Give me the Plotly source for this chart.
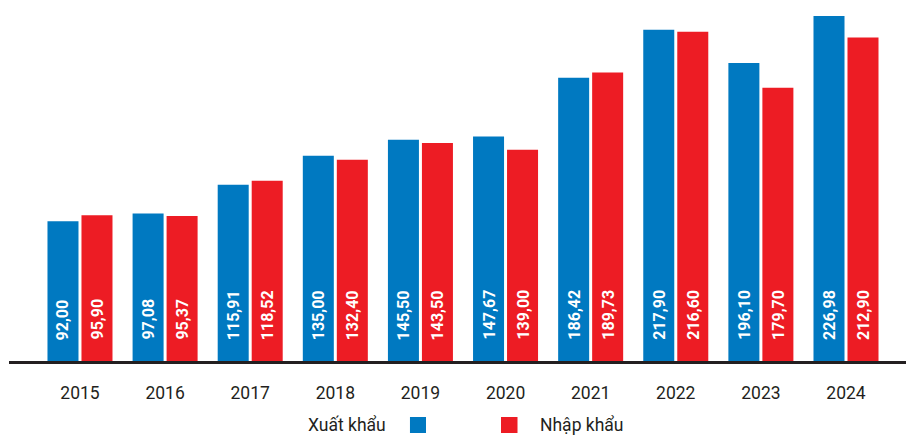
import plotly.graph_objects as go

# Kim ngạch xuất khẩu / nhập khẩu theo năm (tỷ USD)
years = ["2015", "2016", "2017", "2018", "2019", "2020", "2021", "2022", "2023", "2024"]
xuat_khau = [92.00, 97.08, 115.91, 135.00, 145.50, 147.67, 186.42, 217.90, 196.10, 226.98]
nhap_khau = [95.90, 95.37, 118.52, 132.40, 143.50, 139.00, 189.73, 216.60, 179.70, 212.90]
series_names = ["Xuất khẩu", "Nhập khẩu"]

BLUE = "#0079c1"
RED = "#ed1c24"
DARK = "#231f20"
LABEL_FONT = "Roboto, sans-serif"
TICK_FONT = "Roboto, Liberation Sans, sans-serif"


def vn(v):
    return f"{v:.2f}".replace(".", ",")


fig = go.Figure()
fig.add_trace(go.Bar(x=years, y=xuat_khau, name=series_names[0],
                     marker=dict(color=BLUE, line=dict(width=0))))
fig.add_trace(go.Bar(x=years, y=nhap_khau, name=series_names[1],
                     marker=dict(color=RED, line=dict(width=0))))

# Value labels written vertically near the foot of each bar
annotations = []
for i, (a, b) in enumerate(zip(xuat_khau, nhap_khau)):
    for off, val in ((-0.2, a), (0.2, b)):
        annotations.append(dict(
            x=i + off, y=0, xref="x", yref="y", yshift=19,
            text=vn(val), textangle=-90, showarrow=False,
            xanchor="center", yanchor="bottom",
            font=dict(family=LABEL_FONT, size=16, color="white", weight="bold"),
        ))

# Legend: label, swatch, swatch, label
annotations.append(dict(x=0.4225, y=-0.177, xref="paper", yref="paper",
                        text=series_names[0], showarrow=False, xanchor="right",
                        yanchor="middle",
                        font=dict(family=TICK_FONT, size=17.5, color=DARK)))
annotations.append(dict(x=0.5897, y=-0.177, xref="paper", yref="paper",
                        text=series_names[1], showarrow=False, xanchor="left",
                        yanchor="middle",
                        font=dict(family=TICK_FONT, size=17.5, color=DARK)))
shapes = [
    dict(type="rect", xref="paper", yref="paper", x0=0.447, x1=0.4649,
         y0=-0.1994, y1=-0.1551, fillcolor=BLUE, line=dict(width=0)),
    dict(type="rect", xref="paper", yref="paper", x0=0.5485, x1=0.5669,
         y0=-0.1994, y1=-0.1551, fillcolor=RED, line=dict(width=0)),
]

fig.update_layout(
    width=906, height=436,
    margin=dict(l=9, r=0, t=0, b=75),
    paper_bgcolor="white", plot_bgcolor="white",
    barmode="group", bargap=0.201, bargroupgap=0.088,
    showlegend=False,
    annotations=annotations, shapes=shapes,
    xaxis=dict(
        type="category", range=[-0.834, 9.705],
        showline=True, linecolor=DARK, linewidth=3,
        showgrid=False, ticks="", ticklabelstandoff=14,
        tickfont=dict(family=TICK_FONT, size=17.5, color=DARK),
    ),
    yaxis=dict(range=[0, 237.5], visible=False, showgrid=False, zeroline=False),
)

fig.write_html("out.html")
